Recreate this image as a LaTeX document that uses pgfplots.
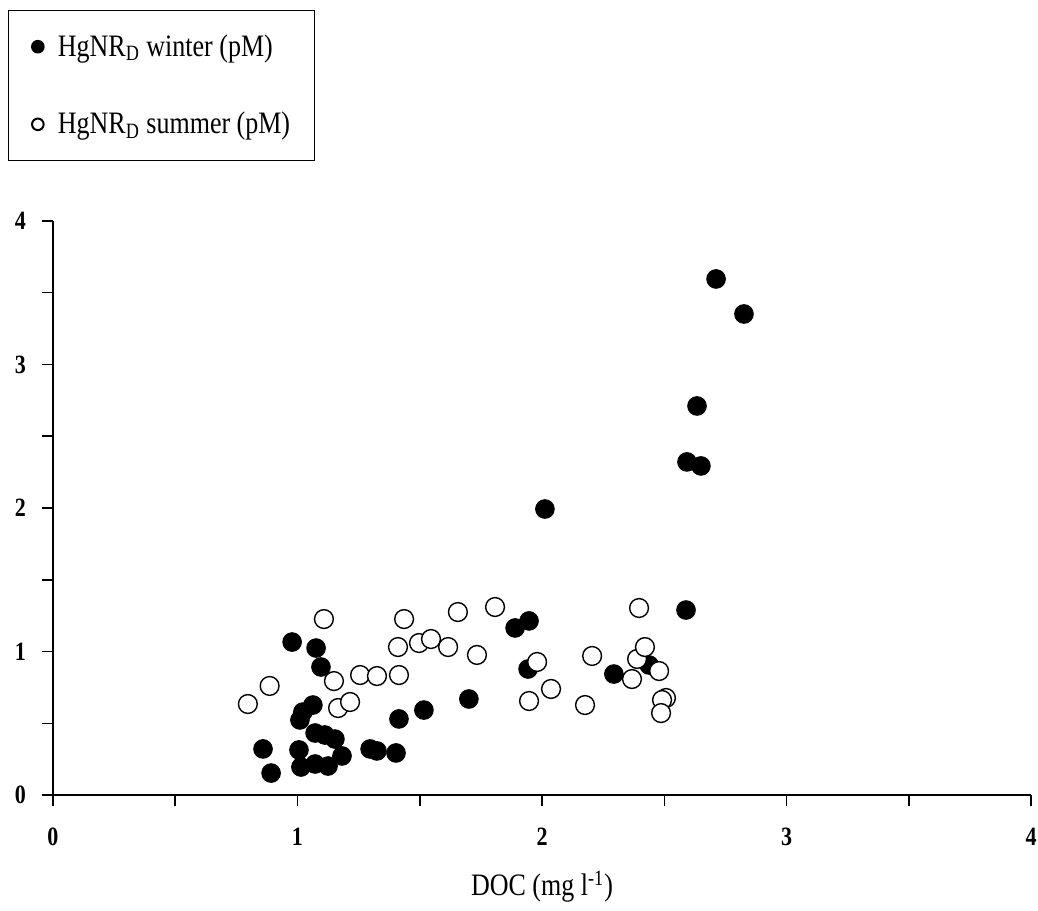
\documentclass[border=0pt]{standalone}
\usepackage{fontspec}
\setmainfont{Liberation Serif}
\usepackage{graphicx}
\usepackage{pgfplots}
\pgfplotsset{compat=1.18}
% the reference text is a little taller than it is wide
\newcommand{\tall}[1]{\scalebox{1}[1.2]{#1}}

\begin{document}
\begin{tikzpicture}
\path[use as bounding box] (-26.5pt,-57.5pt) rectangle (492.5pt,397.5pt);
\begin{axis}[at={(0,0)},anchor=south west,scale only axis,
  width=489pt,height=287pt,
  xmin=0,xmax=4,ymin=0,ymax=4,
  axis x line=bottom,axis y line=left,axis line style={-,line width=0.75pt},
  xtick={0,1,2,3,4},ytick={0,1,2,3,4},
  minor x tick num=1,minor y tick num=1,
  tick align=outside,major tick length=5.5pt,minor tick length=5.5pt,
  tick style={line width=0.75pt,black},
  /pgf/number format/assume math mode=true,
  xticklabels={\tall{0},\tall{1},\tall{2},\tall{3},\tall{4}},
  yticklabels={\tall{0},\tall{1},\tall{2},\tall{3},\tall{4}},
  ticklabel style={font=\bfseries\fontsize{11}{12}\selectfont},
  xticklabel style={yshift=-7.5pt},
  yticklabel style={xshift=-4.5pt},
  xlabel={\tall{DOC (mg l\textsuperscript{-1})}},
  xlabel style={at={(axis description cs:0.5,-0.16)},anchor=center,font=\fontsize{13}{15}\selectfont},
  legend style={at={(-0.046,1.368)},anchor=north west,draw=black,line width=0.6pt,
    font=\fontsize{13}{15}\selectfont,inner xsep=10pt,inner ysep=10pt,row sep=22.5pt,
    cells={anchor=west}},
  legend image code/.code={\draw[#1,mark size=2.9pt,line width=1pt] plot coordinates {(0.15cm,0cm)};
    \path (0cm,0cm) (0.42cm,0cm);},
  clip=false]
\addplot[only marks,mark=*,mark size=4.7pt,draw=black,fill=black] coordinates {
 (2.712,3.596) (2.826,3.352) (2.634,2.711) (2.593,2.321) (2.650,2.293)
 (2.012,1.993) (2.589,1.289) (0.978,1.066) (1.076,1.024) (1.096,0.892)
 (1.890,1.164) (1.947,1.213) (1.943,0.878) (1.701,0.669) (1.415,0.530)
 (1.517,0.592) (1.403,0.293) (1.297,0.321) (1.325,0.307) (0.859,0.321)
 (0.892,0.153) (1.010,0.523) (1.022,0.578) (1.063,0.627) (1.072,0.432)
 (1.112,0.418) (1.153,0.390) (1.006,0.314) (1.182,0.272) (1.014,0.195)
 (1.072,0.216) (1.125,0.202) (2.294,0.843) (2.438,0.906) };
\addlegendentry{\tall{HgNR\textsubscript{D} winter (pM)}}
\addplot[only marks,mark=*,mark size=4.7pt,draw=black,fill=white,line width=0.7pt] coordinates {
 (0.797,0.634) (0.886,0.760) (1.108,1.226) (1.149,0.794) (1.166,0.606)
 (1.215,0.648) (1.256,0.836) (1.325,0.829) (1.415,0.836) (1.411,1.031)
 (1.436,1.226) (1.497,1.059) (1.546,1.087) (1.616,1.031) (1.656,1.275)
 (1.734,0.976) (1.808,1.310) (1.947,0.655) (1.980,0.927) (2.037,0.739)
 (2.176,0.627) (2.205,0.969) (2.397,1.303) (2.368,0.808) (2.389,0.948)
 (2.421,1.031) (2.479,0.864) (2.507,0.676) (2.491,0.662) (2.487,0.571) };
\addlegendentry{\tall{HgNR\textsubscript{D} summer (pM)}}
\end{axis}
\end{tikzpicture}
\end{document}
